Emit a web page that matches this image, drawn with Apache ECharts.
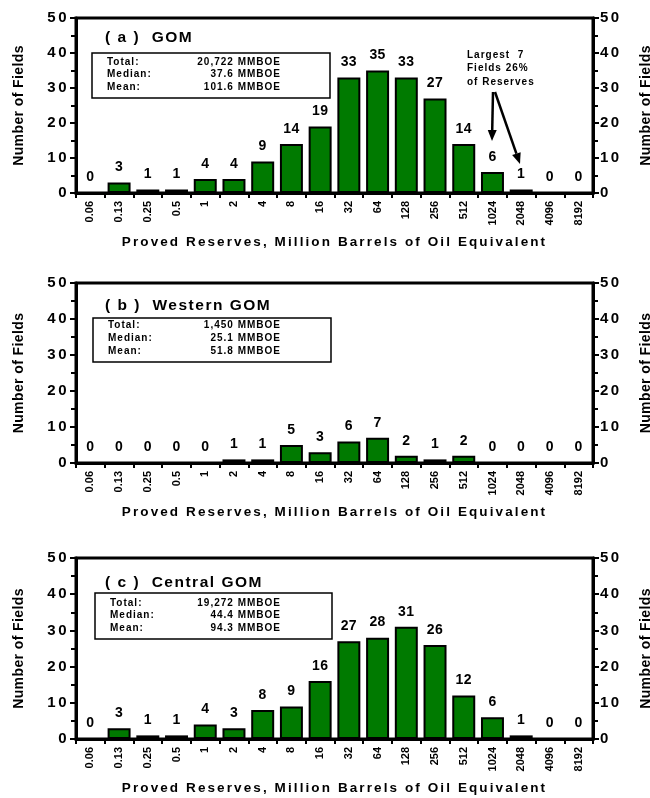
<!DOCTYPE html>
<html>
<head>
<meta charset="utf-8">
<script src="https://cdn.jsdelivr.net/npm/echarts@6/dist/echarts.min.js"></script>
<style>
html,body{margin:0;padding:0;background:#fff;}
#chart{width:650px;height:798px;}
</style>
</head>
<body>
<div id="chart"></div>
<script>
// ---- Data ----
const categories = ['0.06','0.13','0.25','0.5','1','2','4','8','16','32','64','128','256','512','1024','2048','4096','8192'];
const gomCounts     = [0,3,1,1,4,4,9,14,19,33,35,33,27,14,6,1,0,0];
const westernCounts = [0,0,0,0,0,1,1,5,3,6,7,2,1,2,0,0,0,0];
const centralCounts = [0,3,1,1,4,3,8,9,16,27,28,31,26,12,6,1,0,0];
const yMin = 0, yMax = 50, yInterval = 10;
const panelTitles = ['( a )  GOM', '( b )  Western GOM', '( c )  Central GOM'];
const statLabels = ['Total:', 'Median:', 'Mean:'];
const gomStats     = ['20,722 MMBOE', '37.6 MMBOE', '101.6 MMBOE'];
const westernStats = ['1,450 MMBOE', '25.1 MMBOE', '51.8 MMBOE'];
const centralStats = ['19,272 MMBOE', '44.4 MMBOE', '94.3 MMBOE'];
const annotationLines = ['Largest  7', 'Fields 26%', 'of Reserves'];
const xTitle = 'Proved Reserves, Million Barrels of Oil Equivalent';
const yTitle = 'Number of Fields';

// ---- Text tracking (letter spacing by font size, to mimic the wide original lettering) ----
const TRACKING = {'10': 1, '11': 0, '13.5': 2.1, '14': 0.4, '15': 2.5, '15.5': 1.5};
['fillText', 'strokeText'].forEach(fn => {
  const orig = CanvasRenderingContext2D.prototype[fn];
  CanvasRenderingContext2D.prototype[fn] = function () {
    const m = /(\d+(?:\.\d+)?)px/.exec(this.font || '');
    const ls = m && TRACKING[m[1]] !== undefined ? TRACKING[m[1]] : 0;
    if ('letterSpacing' in this) this.letterSpacing = ls + 'px';
    return orig.apply(this, arguments);
  };
});

// ---- Layout ----
const FONT = '"Liberation Sans", Arial, sans-serif';
const GREEN = '#007A00';
const grids = [
  {left: 76, right: 57, top: 18, height: 175},
  {left: 76, right: 57, top: 283, height: 180},
  {left: 76, right: 57, top: 558, height: 181}
];
const seriesData = [gomCounts, westernCounts, centralCounts];
const statsData = [gomStats, westernStats, centralStats];
const boxes = [
  {x: 92, y: 53, w: 238, h: 45, titleY: 37, rows: [62, 74, 87]},
  {x: 93, y: 318, w: 238, h: 44, titleY: 305, rows: [325, 338, 351]},
  {x: 95, y: 593, w: 237, h: 46, titleY: 582, rows: [603, 615, 628]}
];

const chart = echarts.init(document.getElementById('chart'));

const xAxes = [], yAxes = [], series = [], graphic = [];
grids.forEach((g, i) => {
  xAxes.push({
    type: 'category', gridIndex: i, data: categories,
    axisLine: {show: true, lineStyle: {color: '#000', width: 3}},
    axisTick: {show: true, length: 5, interval: 0, lineStyle: {color: '#000', width: 2}},
    axisLabel: {rotate: 90, interval: 0, margin: 8, fontFamily: FONT, fontWeight: 'bold', fontSize: 11, color: '#000'},
    name: xTitle, nameLocation: 'middle', nameGap: 42,
    nameTextStyle: {fontFamily: FONT, fontWeight: 'bold', fontSize: 13.5, color: '#000'}
  });
  ['left', 'right'].forEach(pos => {
    yAxes.push({
      type: 'value', gridIndex: i, position: pos, min: yMin, max: yMax, interval: yInterval,
      axisLine: {show: true, lineStyle: {color: '#000', width: 3}},
      axisTick: {show: true, length: 6, lineStyle: {color: '#000', width: 2}},
      minorTick: {show: true, splitNumber: 2, length: 5, lineStyle: {color: '#000', width: 2}},
      splitLine: {show: false},
      axisLabel: {margin: 7, fontFamily: FONT, fontWeight: 'bold', fontSize: 15, color: '#000'},
      name: yTitle, nameLocation: 'middle', nameRotate: 90, nameGap: pos === 'left' ? 50 : 46,
      nameTextStyle: {fontFamily: FONT, fontWeight: 'bold', fontSize: 14, color: '#000'}
    });
  });
  series.push({
    type: 'bar', xAxisIndex: i, yAxisIndex: i * 2, data: seriesData[i],
    barWidth: '80%',
    itemStyle: {color: GREEN, borderColor: '#000', borderWidth: 2},
    label: {show: true, position: 'top', distance: 8, fontFamily: FONT, fontWeight: 'bold', fontSize: 14, color: '#000'}
  });

  const b = boxes[i];
  graphic.push({
    type: 'text', left: 105, top: b.titleY - 7,
    style: {text: panelTitles[i], font: 'bold 15.5px ' + FONT, fill: '#000'}
  });
  graphic.push({
    type: 'rect', shape: {x: b.x, y: b.y, width: b.w, height: b.h},
    style: {fill: 'rgba(0,0,0,0)', stroke: '#000', lineWidth: 1.5}
  });
  statLabels.forEach((lab, r) => {
    graphic.push({type: 'text', style: {text: lab, x: b.x + 15, y: b.rows[r], font: 'bold 10px ' + FONT, fill: '#000', align: 'left', verticalAlign: 'middle'}});
    graphic.push({type: 'text', style: {text: statsData[i][r], x: 281, y: b.rows[r], font: 'bold 10px ' + FONT, fill: '#000', align: 'right', verticalAlign: 'middle'}});
  });
});

// Annotation in panel (a)
annotationLines.forEach((t, r) => {
  graphic.push({type: 'text', style: {text: t, x: 467, y: 55 + r * 13.5, font: 'bold 10px ' + FONT, fill: '#000', align: 'left', verticalAlign: 'middle'}});
});
function arrow(x1, y1, x2, y2) {
  const dx = x2 - x1, dy = y2 - y1, L = Math.sqrt(dx * dx + dy * dy);
  const ux = dx / L, uy = dy / L, headLen = 11, headW = 4.5;
  const bx = x2 - ux * headLen, by = y2 - uy * headLen;
  graphic.push({type: 'line', shape: {x1: x1, y1: y1, x2: bx, y2: by}, style: {stroke: '#000', lineWidth: 2.5}});
  graphic.push({type: 'polygon', shape: {points: [[x2, y2], [bx - uy * headW, by + ux * headW], [bx + uy * headW, by - ux * headW]]}, style: {fill: '#000'}});
}
arrow(493, 92, 492, 141);
arrow(495, 92, 520, 164);

chart.setOption({
  animation: false,
  backgroundColor: '#fff',
  grid: grids.map(g => Object.assign({show: true, borderColor: '#000', borderWidth: 3, backgroundColor: 'rgba(0,0,0,0)', containLabel: false, outerBoundsMode: 'none'}, g)),
  xAxis: xAxes,
  yAxis: yAxes,
  series: series,
  graphic: graphic
});
</script>
</body>
</html>
